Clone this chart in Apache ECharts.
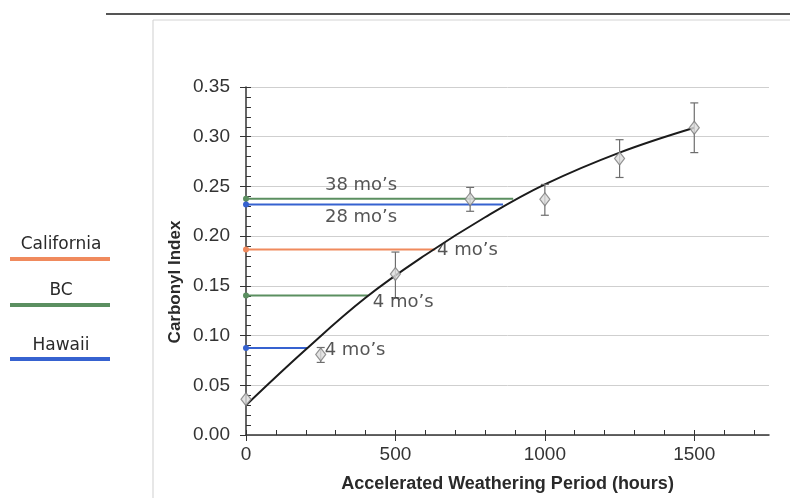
<!DOCTYPE html>
<html>
<head>
    <meta charset="utf-8">
    <title>Carbonyl Index vs Accelerated Weathering</title>
    <script src="https://cdn.jsdelivr.net/npm/echarts@6/dist/echarts.min.js"></script>
    <style>
        * {
            margin: 0;
            padding: 0
        }

        html, body {
            width: 100%;
            height: 100%;
            background: #fff;
        }

        #main {
            width: 790px;
            height: 498px;
        }
    </style>
</head>
<body>
<div id="main"></div>
<script type="text/javascript">
    /*--------------------measured points-----------------------------*/
    var hours = [0, 250, 500, 750, 1000, 1250, 1500];
    var carbonyl = [0.036, 0.081, 0.162, 0.237, 0.237, 0.278, 0.309];
    var errLow = [null, 0.073, 0.138, 0.225, 0.221, 0.259, 0.284];
    var errHigh = [null, 0.088, 0.184, 0.249, 0.252, 0.297, 0.334];

    /*--------------------fitted curve----------------------------------------------------*/
    var fitHours = [0, 200, 400, 600, 800, 1000, 1250, 1500];
    var fitValues = [0.030, 0.086, 0.138, 0.181, 0.219, 0.252, 0.284, 0.309];

    /*--------------------outdoor exposures-----------------------------*/
    var siteNames = ['California', 'BC', 'Hawaii'];
    var siteColors = ['#f08a5d', '#5b8f60', '#3662d0'];
    var exposureSite = [1, 2, 0, 1, 2];
    var exposureLevel = [0.2375, 0.2317, 0.1866, 0.1404, 0.0876];
    var exposureHours = [894, 860, 633, 408, 204];
    var exposureText = ['38 mo’s', '28 mo’s', '4 mo’s', '4 mo’s', '4 mo’s'];
    var labelHours = [385, 385, 741, 526, 365];
    var labelLevel = [0.2507, 0.2186, 0.1856, 0.1334, 0.0852];

    /*--------------------ticks-----------------------------*/
    var xTicks = [0, 500, 1000, 1500];
    var xMinor = [100, 200, 300, 400, 600, 700, 800, 900, 1100, 1200, 1300, 1400, 1600, 1700];
    var yMinor = [];
    for (var i = 1; i <= 35; i++) {
        yMinor.push(i / 100);
    }

    var chart = echarts.init(document.getElementById('main'));

    var series = [];

    // coloured horizontal lines, dot at the start
    exposureLevel.forEach(function (lvl, k) {
        var c = siteColors[exposureSite[k]];
        series.push({
            name: siteNames[exposureSite[k]],
            type: 'line',
            z: 3,
            symbol: 'none',
            lineStyle: {color: c, width: 2},
            itemStyle: {color: c},
            data: [
                {value: [0, lvl], symbol: 'circle', symbolSize: 6},
                {value: [exposureHours[k], lvl]}
            ]
        });
    });

    // fit curve
    series.push({
        name: 'fit',
        type: 'line',
        smooth: 0.4,
        symbol: 'none',
        z: 4,
        lineStyle: {color: '#1b1b1b', width: 2},
        data: fitHours.map(function (h, k) {
            return [h, fitValues[k]];
        })
    });

    // error bars
    series.push({
        name: 'error',
        type: 'custom',
        z: 5,
        renderItem: function (params, api) {
            var lo = api.value(1), hi = api.value(2);
            if (lo == null || isNaN(lo)) {
                return null;
            }
            var top = api.coord([api.value(0), hi]);
            var bot = api.coord([api.value(0), lo]);
            var w = 4;
            var st = {stroke: '#6d6d6d', lineWidth: 1.2};
            return {
                type: 'group',
                children: [
                    {type: 'line', shape: {x1: top[0], y1: top[1], x2: bot[0], y2: bot[1]}, style: st},
                    {type: 'line', shape: {x1: top[0] - w, y1: top[1], x2: top[0] + w, y2: top[1]}, style: st},
                    {type: 'line', shape: {x1: bot[0] - w, y1: bot[1], x2: bot[0] + w, y2: bot[1]}, style: st}
                ]
            };
        },
        data: hours.map(function (h, k) {
            return [h, errLow[k], errHigh[k]];
        })
    });

    // diamonds
    series.push({
        name: 'measured',
        type: 'scatter',
        symbol: 'diamond',
        symbolSize: [10, 13],
        z: 6,
        itemStyle: {color: '#dcdcdc', borderColor: '#7a7a7a', borderWidth: 1.2},
        data: hours.map(function (h, k) {
            return [h, carbonyl[k]];
        })
    });

    // exposure labels
    series.push({
        name: 'labels',
        type: 'scatter',
        symbolSize: 0,
        z: 7,
        silent: true,
        label: {
            show: true,
            position: 'inside',
            formatter: '{b}',
            color: '#2a2a2a',
            fontSize: 18,
            fontFamily: 'DejaVu Sans'
        },
        data: labelHours.map(function (h, k) {
            return {name: exposureText[k], value: [h, labelLevel[k]]};
        })
    });

    // hand made legend at the left
    var legendY = [245, 291, 346];
    var lineY = [259, 305, 359];
    var legendGraphics = [];
    siteNames.forEach(function (n, k) {
        legendGraphics.push({
            type: 'text',
            x: 61,
            y: legendY[k],
            style: {
                text: n, align: 'center', verticalAlign: 'middle',
                font: '17px "DejaVu Sans"', fill: '#2a2a2a'
            }
        });
        legendGraphics.push({
            type: 'line',
            shape: {x1: 10, y1: lineY[k], x2: 110, y2: lineY[k]},
            style: {stroke: siteColors[k], lineWidth: 4}
        });
    });

    chart.setOption({
        animation: false,
        backgroundColor: '#fff',
        grid: {left: 246, right: 21, top: 87, bottom: 62},
        graphic: [
            {type: 'line', shape: {x1: 106, y1: 14, x2: 790, y2: 14}, style: {stroke: '#555', lineWidth: 2}},
            {type: 'line', shape: {x1: 153, y1: 20, x2: 790, y2: 20}, style: {stroke: '#d4d4d4', lineWidth: 1}},
            {type: 'line', shape: {x1: 153, y1: 20, x2: 153, y2: 498}, style: {stroke: '#cfcfcf', lineWidth: 1}},
            {
                type: 'text', x: 175, y: 282, rotation: Math.PI / 2,
                style: {
                    text: 'Carbonyl Index', align: 'center', verticalAlign: 'middle',
                    font: 'bold 17px "Liberation Sans"', fill: '#2a2a2a'
                }
            }
        ].concat(legendGraphics),
        xAxis: [
            {
                type: 'value',
                min: 0,
                max: 1750,
                position: 'bottom',
                name: 'Accelerated Weathering Period (hours)',
                nameLocation: 'middle',
                nameGap: 40,
                nameTextStyle: {fontFamily: 'Liberation Sans', fontWeight: 'bold', fontSize: 18, color: '#2a2a2a'},
                axisLine: {lineStyle: {color: '#333', width: 1.5}},
                axisTick: {customValues: xTicks, length: 6, lineStyle: {color: '#333'}},
                axisLabel: {
                    customValues: xTicks, fontFamily: 'Liberation Sans', fontSize: 19, color: '#333', margin: 10,
                    formatter: function (v) {
                        return String(v);
                    }
                },
                splitLine: {show: false}
            },
            {
                type: 'value',
                min: 0,
                max: 1750,
                position: 'bottom',
                axisLine: {show: false},
                axisTick: {customValues: xMinor.concat(xTicks), inside: true, length: 5, lineStyle: {color: '#333'}},
                axisLabel: {show: false},
                splitLine: {show: false}
            }
        ],
        yAxis: [
            {
                type: 'value',
                min: 0,
                max: 0.35,
                interval: 0.05,
                axisLine: {show: true, lineStyle: {color: '#333', width: 1.5}},
                axisTick: {show: true, length: 6, lineStyle: {color: '#333'}},
                axisLabel: {
                    fontFamily: 'Liberation Sans', fontSize: 19, color: '#333', margin: 16,
                    formatter: function (v) {
                        return v.toFixed(2);
                    }
                },
                splitLine: {show: true, lineStyle: {color: '#cfcfcf', width: 1}}
            },
            {
                type: 'value',
                min: 0,
                max: 0.35,
                position: 'left',
                axisLine: {show: false},
                axisTick: {show: true, customValues: yMinor, inside: true, length: 5, lineStyle: {color: '#333'}},
                axisLabel: {show: false},
                splitLine: {show: false}
            }
        ],
        series: series
    });
</script>
</body>
</html>
